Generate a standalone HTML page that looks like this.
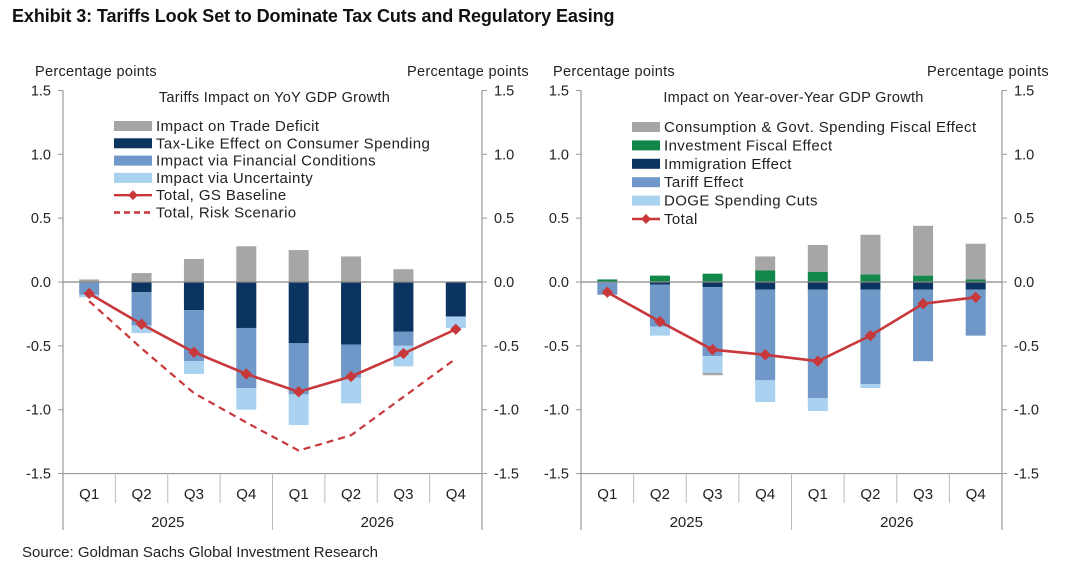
<!DOCTYPE html>
<html><head><meta charset="utf-8">
<style>
body{margin:0;background:#fff;width:1080px;height:568px;overflow:hidden;font-family:"Liberation Sans",Arial,sans-serif;}
#title{position:absolute;left:12px;top:6px;font-size:18px;font-weight:bold;color:#111;letter-spacing:-0.1px;}
#source{position:absolute;left:22px;top:544px;font-size:15px;color:#222;}
svg{position:absolute;left:0;top:0;}
</style></head><body>
<div id="title">Exhibit 3: Tariffs Look Set to Dominate Tax Cuts and Regulatory Easing</div>
<div id="source">Source: Goldman Sachs Global Investment Research</div>
<svg id="svg" width="1080" height="568"></svg>
<script>
const quarters=["Q1","Q2","Q3","Q4","Q1","Q2","Q3","Q4"];
const years=["2025","2026"];
const yTicks=[1.5,1.0,0.5,0.0,-0.5,-1.0,-1.5];
// Left chart series
const tradeDeficit=[0.02,0.07,0.18,0.28,0.25,0.2,0.1,0];
const taxLike=[0,-0.08,-0.22,-0.36,-0.48,-0.49,-0.39,-0.27];
const finCond=[-0.1,-0.26,-0.4,-0.47,-0.4,-0.26,-0.11,0];
const uncertainty=[-0.02,-0.06,-0.1,-0.17,-0.24,-0.2,-0.16,-0.09];
const gsBaseline=[-0.09,-0.33,-0.55,-0.72,-0.86,-0.74,-0.56,-0.37];
const riskScenario=[-0.15,-0.52,-0.87,-1.1,-1.32,-1.2,-0.9,-0.6];
// Right chart series
const consumption=[0,0,-0.02,0.11,0.21,0.31,0.39,0.28];
const investment=[0.02,0.05,0.065,0.09,0.08,0.06,0.05,0.02];
const immigration=[-0.005,-0.02,-0.04,-0.06,-0.06,-0.06,-0.06,-0.06];
const tariff=[-0.095,-0.33,-0.54,-0.71,-0.85,-0.74,-0.56,-0.36];
const doge=[0,-0.07,-0.13,-0.17,-0.1,-0.03,0,0];
const total=[-0.08,-0.31,-0.53,-0.57,-0.62,-0.42,-0.17,-0.12];

const NS="http://www.w3.org/2000/svg";
const svg=document.getElementById('svg');
function mk(tag,attrs,parent){const e=document.createElementNS(NS,tag);for(const k in attrs)e.setAttribute(k,attrs[k]);(parent||svg).appendChild(e);return e;}
function txt(x,y,s,anchor,size,parent,ls){const t=mk('text',{x:x,y:y,'text-anchor':anchor||'start','font-size':size||14,fill:'#222','font-family':'Liberation Sans, Arial, sans-serif','letter-spacing':ls||0},parent);t.textContent=s;return t;}

const Y0=282,UNIT=127.7;
function yS(v){return Y0-v*UNIT;}

function drawChart(name,L,R,subtitle,barSeries,lines,legend,legX,legY0,legDy){
  const g=mk('g',{});
  
  
  const cw=(R-L)/8;
  function xS(i){return L+cw*(i+0.5);}
  const la=mk('line',{x1:L,y1:yS(1.5),x2:L,y2:530,stroke:'#999','stroke-width':1.2},g);
  
  const ra=mk('line',{x1:R,y1:yS(1.5),x2:R,y2:530,stroke:'#999','stroke-width':1.2},g);
  
  yTicks.forEach(v=>{
    mk('line',{x1:L-5,y1:yS(v),x2:L,y2:yS(v),stroke:'#999'},g);
    mk('line',{x1:R,y1:yS(v),x2:R+5,y2:yS(v),stroke:'#999'},g);
    const a=txt(L-12,yS(v)+5,v.toFixed(1),'end',14.5,g);
    
    const b=txt(R+12,yS(v)+5,v.toFixed(1),'start',14.5,g);
    
  });
  mk('line',{x1:L,y1:yS(-1.5),x2:R,y2:yS(-1.5),stroke:'#999','stroke-width':1.2},g);
  for(let i=1;i<8;i++){mk('line',{x1:L+cw*i,y1:yS(-1.5),x2:L+cw*i,y2:i==4?530:503,stroke:'#bbb'},g);}
  quarters.forEach((q,i)=>{const t=txt(xS(i),499,q,'middle',15,g);});
  years.forEach((yv,i)=>{const t=txt(L+cw*(2+4*i),527,yv,'middle',15,g);});
  const p1=txt(L-28,76,'Percentage  points','start',14.5,g,0.3);
  const p2=txt(R+47,76,'Percentage  points','end',14.5,g,0.3);
  const st=txt((L+R)/2+2,102,subtitle,'middle',14.5,g,0.3);
  const bw=20;
  for(let i=0;i<8;i++){
    let pos=0,neg=0;
    barSeries.forEach(s=>{
      const v=s.data[i];
      let a,b;
      if(v>=0){a=pos;b=pos+v;pos=b;}else{a=neg;b=neg+v;neg=b;}
      if(v===0)return;
      const r=mk('rect',{x:xS(i)-bw/2,y:yS(Math.max(a,b)),width:bw,height:Math.abs(yS(a)-yS(b)),fill:s.color},g);
      
      
    });
  }
  mk('line',{x1:L,y1:Y0,x2:R,y2:Y0,stroke:'#888','stroke-width':1.2},g);
  lines.forEach(ln=>{
    const pts=ln.data.map((v,i)=>xS(i)+','+yS(v)).join(' ');
    const pl=mk('polyline',{points:pts,fill:'none',stroke:'#c8373a','stroke-width':ln.dash?2.2:2.6,'stroke-dasharray':ln.dash?'7,5':'none'},g);
    
    
    if(ln.markers){ln.data.forEach((v,i)=>{
      const m=mk('rect',{x:xS(i)-4,y:yS(v)-4,width:8,height:8,fill:'#c8373a',transform:'rotate(45 '+xS(i)+' '+yS(v)+')'},g);
      
      
    });}
  });
  legend.forEach((e,k)=>{
    const y=legY0+k*legDy;
    const lg=mk('g',{},g);
    
    
    if(e.type==='bar')mk('rect',{x:legX,y:y-5,width:e.w,height:10,fill:e.color},lg);
    else{mk('line',{x1:legX,y1:y,x2:legX+e.w,y2:y,stroke:'#c8373a','stroke-width':2.4,'stroke-dasharray':e.dash?'6,4':'none'},lg);
      if(!e.dash)mk('rect',{x:legX+e.w/2-3.5,y:y-3.5,width:7,height:7,fill:'#c8373a',transform:'rotate(45 '+(legX+e.w/2)+' '+y+')'},lg);}
    txt(legX+e.w+4,y+5,e.label,'start',15,lg,0.4);
  });
}
const C={gray:'#a6a6a6',navy:'#0b3560',mid:'#6f98c8',light:'#a9d1f0',green:'#11874a'};
drawChart('left-chart-tariffs',63,482,'Tariffs  Impact on YoY GDP Growth',
 [{key:'trade-deficit',data:tradeDeficit,color:C.gray},{key:'tax-like',data:taxLike,color:C.navy},{key:'financial-conditions',data:finCond,color:C.mid},{key:'uncertainty',data:uncertainty,color:C.light}],
 [{key:'risk-scenario',data:riskScenario,dash:true},{key:'gs-baseline',data:gsBaseline,markers:true}],
 [{type:'bar',w:38,color:C.gray,label:'Impact on Trade  Deficit'},{type:'bar',w:38,color:C.navy,label:'Tax-Like  Effect on Consumer  Spending'},{type:'bar',w:38,color:C.mid,label:'Impact via Financial  Conditions'},{type:'bar',w:38,color:C.light,label:'Impact via Uncertainty'},{type:'line',w:38,label:'Total, GS Baseline'},{type:'line',w:38,dash:true,label:'Total, Risk Scenario'}],
 114,126,17.3);
drawChart('right-chart-gdp',581,1002,'Impact  on Year-over-Year  GDP Growth',
 [{key:'investment-fiscal',data:investment,color:C.green},{key:'immigration',data:immigration,color:C.navy},{key:'tariff',data:tariff,color:C.mid},{key:'doge',data:doge,color:C.light},{key:'consumption-fiscal',data:consumption,color:C.gray}],
 [{key:'total',data:total,markers:true}],
 [{type:'bar',w:28,color:C.gray,label:'Consumption & Govt. Spending Fiscal Effect'},{type:'bar',w:28,color:C.green,label:'Investment Fiscal Effect'},{type:'bar',w:28,color:C.navy,label:'Immigration Effect'},{type:'bar',w:28,color:C.mid,label:'Tariff Effect'},{type:'bar',w:28,color:C.light,label:'DOGE Spending Cuts'},{type:'line',w:28,label:'Total'}],
 632,127,18.4);
</script>
</body></html>
